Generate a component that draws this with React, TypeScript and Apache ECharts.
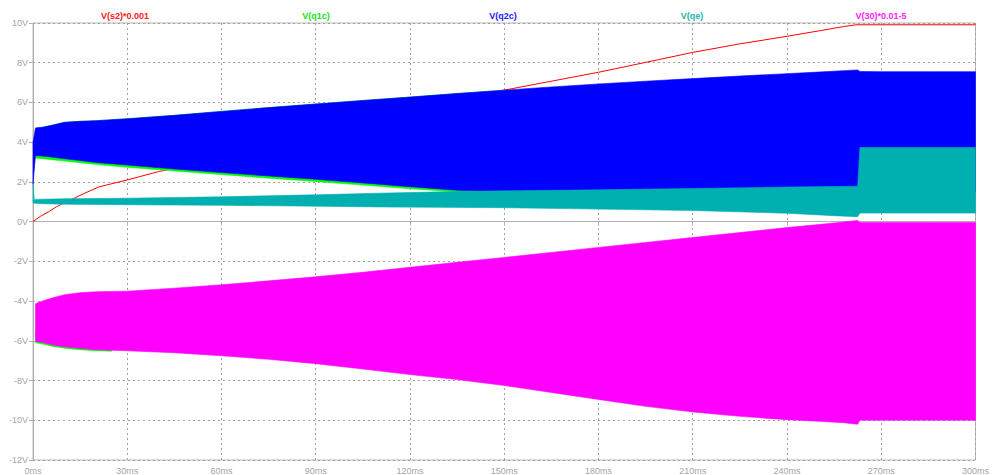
import React, { useEffect, useRef } from "react";
import * as echarts from "echarts";

// ---- time axis ticks (ms) and voltage ticks (V)
const X_TICKS_MS = [0, 30, 60, 90, 120, 150, 180, 210, 240, 270, 300];
const Y_TICKS_V = [-12, -10, -8, -6, -4, -2, 0, 2, 4, 6, 8, 10];

// ---- trace names
const TRACE_NAMES = ["V(s2)*0.001", "V(q1c)", "V(q2c)", "V(qe)", "V(30)*0.01-5"];

// ---- V(s2)*0.001 : single line
const s2Time = [0, 1, 2.5, 5, 7.5, 10, 12.5, 16, 21, 30, 40, 53, 60, 90, 120, 150, 180, 199, 210, 225, 240, 250, 258, 262, 300];
const s2Value = [0, 0.12, 0.28, 0.5, 0.75, 0.95, 1.13, 1.4, 1.75, 2.1, 2.52, 2.96, 3.25, 4.55, 5.7, 6.62, 7.52, 8.15, 8.52, 8.95, 9.33, 9.6, 9.82, 9.91, 9.91];

// ---- V(q1c) : envelope (mostly hidden, peeks out under V(q2c))
const q1cTime = [0.8, 3, 6, 10, 15, 20, 30, 45, 60, 75, 90, 105, 120, 135, 150];
const q1cHigh = [4.7, 4.75, 4.85, 5.0, 5.05, 5.08, 5.18, 5.35, 5.55, 5.74, 5.92, 6.1, 6.27, 6.45, 6.62];
const q1cLow = [3.2, 3.17, 3.12, 3.05, 2.97, 2.88, 2.74, 2.55, 2.37, 2.19, 2.02, 1.84, 1.66, 1.5, 1.45];
const q1cTime2 = [0.8, 3, 6, 10, 15, 20, 25];
const q1cHigh2 = [-5.5, -5.5, -5.6, -5.7, -5.8, -5.9, -6.0];
const q1cLow2 = [-6.1, -6.16, -6.27, -6.37, -6.45, -6.5, -6.52];

// ---- V(q2c) : envelope
const q2cTime = [0, 0.8, 3, 6, 10, 15, 20, 30, 45, 60, 75, 90, 105, 120, 135, 150, 165, 180, 195, 210, 225, 240, 250, 258, 262.5, 263.2, 270, 285, 300];
const q2cHigh = [4.0, 4.72, 4.75, 4.85, 5.0, 5.05, 5.08, 5.18, 5.35, 5.55, 5.74, 5.92, 6.1, 6.27, 6.45, 6.62, 6.78, 6.93, 7.07, 7.2, 7.33, 7.45, 7.53, 7.6, 7.64, 7.56, 7.55, 7.55, 7.55];
const q2cLow = [1.9, 3.33, 3.3, 3.25, 3.17, 3.08, 2.98, 2.85, 2.65, 2.47, 2.3, 2.13, 1.95, 1.76, 1.58, 1.5, 1.5, 1.5, 1.5, 1.5, 1.5, 1.5, 1.5, 1.5, 1.5, 1.5, 1.5, 1.5, 1.5];

// ---- V(qe) : envelope
const qeTime = [0, 0.4, 0.8, 3, 10, 30, 60, 90, 110, 130, 150, 180, 210, 240, 255, 262.5, 263.2, 270, 300];
const qeHigh = [1.9, 1.1, 1.12, 1.13, 1.15, 1.18, 1.25, 1.35, 1.43, 1.5, 1.55, 1.6, 1.67, 1.74, 1.77, 1.78, 3.73, 3.73, 3.73];
const qeLow = [0.95, 0.92, 0.92, 0.9, 0.88, 0.85, 0.82, 0.78, 0.74, 0.72, 0.7, 0.63, 0.56, 0.42, 0.3, 0.25, 0.43, 0.43, 0.43];

// ---- V(30)*0.01-5 : envelope
const v30Time = [0.8, 3, 6, 10, 15, 20, 30, 45, 60, 75, 90, 105, 120, 135, 150, 165, 180, 195, 210, 225, 240, 250, 258, 262.5, 263.2, 270, 285, 300];
const v30High = [-4.13, -4.0, -3.85, -3.68, -3.58, -3.53, -3.5, -3.35, -3.18, -2.98, -2.78, -2.55, -2.3, -2.05, -1.8, -1.55, -1.3, -1.05, -0.8, -0.55, -0.3, -0.15, -0.02, 0.06, -0.04, -0.04, -0.04, -0.04];
const v30Low = [-6.03, -6.08, -6.2, -6.3, -6.38, -6.45, -6.5, -6.6, -6.75, -6.93, -7.15, -7.42, -7.7, -7.95, -8.25, -8.6, -8.95, -9.3, -9.58, -9.8, -9.97, -10.05, -10.12, -10.2, -10.0, -10.0, -10.0, -10.0];

const COLORS = {
  s2: "#ff0000",
  q1c: "#00ff00",
  q2c: "#0000ff",
  qe: "#00afaf",
  v30: "#ff00ff",
};
const LABEL_COLORS = ["#ff2020", "#22dd22", "#2020ff", "#20b4b4", "#ff20ff"];
const LABEL_X = [125, 316, 503, 692, 881];

function band(name: string, times: number[], hi: number[], lo: number[], color: string, z: number) {
  return {
    type: "custom",
    name,
    silent: true,
    z,
    data: times.map((t, i) => [t, lo[i], hi[i]]),
    encode: { x: 0, y: [1, 2] },
    renderItem: (params: any, api: any) => {
      if (params.dataIndex !== 0) return null;
      const pts: number[][] = [];
      for (let i = 0; i < times.length; i++) pts.push(api.coord([times[i], hi[i]]));
      for (let i = times.length - 1; i >= 0; i--) pts.push(api.coord([times[i], lo[i]]));
      return {
        type: "polygon",
        shape: { points: pts },
        style: { fill: color, stroke: color, lineWidth: 0.6 },
      };
    },
  };
}

export default function App() {
  const ref = useRef<HTMLDivElement>(null);
  useEffect(() => {
    if (!ref.current) return;
    const chart = echarts.init(ref.current, null, { renderer: "svg" });
    const gray = "#a4a4a4";
    const option: any = {
      animation: false,
      backgroundColor: "#ffffff",
      grid: {
        left: 33,
        right: 15,
        top: 23,
        bottom: 15,
        show: true,
        borderColor: "#b8b8b8",
        borderWidth: 1,
        backgroundColor: "transparent",
      },
      xAxis: {
        type: "value",
        min: 0,
        max: 300,
        interval: 30,
        axisLine: { show: true, lineStyle: { color: "#b0b0b0", width: 1 } },
        axisTick: { show: true, length: 4, lineStyle: { color: "#b0b0b0" } },
        axisLabel: {
          color: gray,
          fontFamily: "Liberation Sans",
          fontSize: 9,
          margin: 6,
          formatter: (v: number) => (X_TICKS_MS.includes(v) ? `${v}ms` : ""),
        },
        splitLine: { show: true, lineStyle: { color: "#a0a0a0", type: [2, 3], width: 1 } },
      },
      yAxis: {
        type: "value",
        min: -12,
        max: 10,
        interval: 2,
        axisLine: { show: true, lineStyle: { color: "#b0b0b0", width: 1 } },
        axisTick: { show: true, length: 4, lineStyle: { color: "#b0b0b0" } },
        axisLabel: {
          color: gray,
          fontFamily: "Liberation Sans",
          fontSize: 9,
          margin: 5,
          formatter: (v: number) => (Y_TICKS_V.includes(v) ? `${v}V` : ""),
        },
        splitLine: { show: true, lineStyle: { color: "#a0a0a0", type: [2, 3], width: 1 } },
      },
      graphic: TRACE_NAMES.map((t, i) => ({
        type: "text",
        x: LABEL_X[i],
        y: 16,
        style: {
          text: t,
          fill: LABEL_COLORS[i],
          font: "bold 9px 'Liberation Sans'",
          align: "center",
          verticalAlign: "middle",
        },
      })),
      series: [
        {
          type: "line",
          name: TRACE_NAMES[0],
          z: 1,
          data: s2Time.map((t, i) => [t, s2Value[i]]),
          showSymbol: false,
          symbol: "none",
          lineStyle: { color: COLORS.s2, width: 1 },
          silent: true,
        },
        band(TRACE_NAMES[1], q1cTime, q1cHigh, q1cLow, COLORS.q1c, 2),
        band(TRACE_NAMES[1] + "b", q1cTime2, q1cHigh2, q1cLow2, COLORS.q1c, 2),
        band(TRACE_NAMES[2], q2cTime, q2cHigh, q2cLow, COLORS.q2c, 3),
        band(TRACE_NAMES[3], qeTime, qeHigh, qeLow, COLORS.qe, 4),
        band(TRACE_NAMES[4], v30Time, v30High, v30Low, COLORS.v30, 4),
      ],
    };
    chart.setOption(option);
    return () => chart.dispose();
  }, []);
  return <div ref={ref} style={{ width: 992, height: 475, position: "fixed", left: 0, top: 0 }} />;
}
